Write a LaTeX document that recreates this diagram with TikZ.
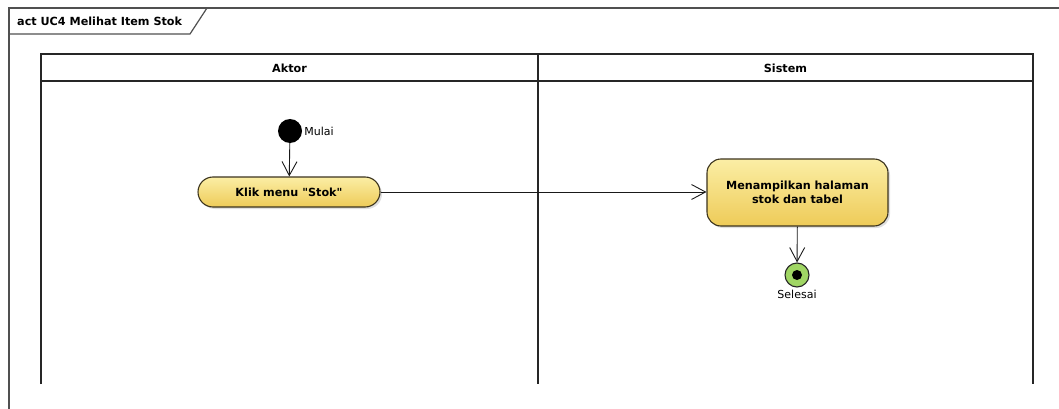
\documentclass[tikz,border=0pt]{standalone}
\usepackage{fontspec}
\newfontfamily\umlfont{DejaVu Sans}
\usetikzlibrary{arrows.meta,shadows}
\definecolor{actTop}{RGB}{251,238,165}
\definecolor{actBot}{RGB}{238,203,88}
\definecolor{actLine}{RGB}{60,52,30}
\definecolor{finGreen}{RGB}{160,214,100}
\definecolor{frameCol}{RGB}{80,80,80}
\begin{document}
\begin{tikzpicture}[x=1pt,y=-1pt,
  lane/.style={line width=1.3pt, draw=black!85},
  framestyle/.style={line width=1.2pt, draw=frameCol},
  boldtxt/.style={font=\umlfont\bfseries\fontsize{11.2}{13.5}\selectfont, inner sep=2pt},
  plaintxt/.style={font=\umlfont\fontsize{11}{13}\selectfont, inner sep=2pt},
  act/.style={draw=actLine, line width=1.1pt, top color=actTop, bottom color=actBot,
    font=\umlfont\bfseries\fontsize{11.2}{14}\selectfont, align=center,
    drop shadow={opacity=0.25, shadow xshift=2pt, shadow yshift=-2pt}},
  flow/.style={line width=0.9pt, draw=black!90, -{Straight Barb[length=14pt,width=15pt,line width=0.9pt]}},
]
\useasboundingbox (0,0) rectangle (1059,409);
\fill[white] (0,0) rectangle (1059,409);
% frame
\draw[framestyle] (9,409) -- (9,8) -- (1059,8);
\draw[framestyle] (9,34) -- (190,34) -- (207,8);
\node[boldtxt, anchor=west] (title) at (15,21) {act UC4 Melihat Item Stok};
% lanes
\draw[lane] (41,384) -- (41,54) -- (1033,54) -- (1033,384);
\draw[lane] (41,81) -- (1033,81);
\draw[lane] (538,54) -- (538,384);
\node[boldtxt] (aktor) at (289.5,68) {Aktor};
\node[boldtxt] (sistem) at (785.5,68) {Sistem};
% nodes
\node[circle, fill=black, minimum size=24pt, inner sep=0pt] (start) at (290,131) {};
\node[plaintxt, anchor=west] (mulai) at (start.east) {Mulai};
\node[act, minimum width=182pt, minimum height=30pt, rounded corners=15pt] (klik) at (289,192) {Klik menu "Stok"};
\node[act, minimum width=181pt, minimum height=67pt, rounded corners=14pt] (tampil) at (797.5,192.5) {Menampilkan halaman\\stok dan tabel};
\node[circle, draw=black!85, line width=1.1pt, fill=finGreen, minimum size=24pt, inner sep=0pt] (end) at (797,275) {};
\fill[black] (end.center) circle (5pt);
\node[plaintxt, anchor=north] (selesai) at (end.south) {Selesai};
% flows
\draw[flow] (start) -- (klik);
\draw[flow] (klik.east) -- (klik.east -| tampil.west);
\draw[flow] (tampil) -- (end);
\end{tikzpicture}
\end{document}
